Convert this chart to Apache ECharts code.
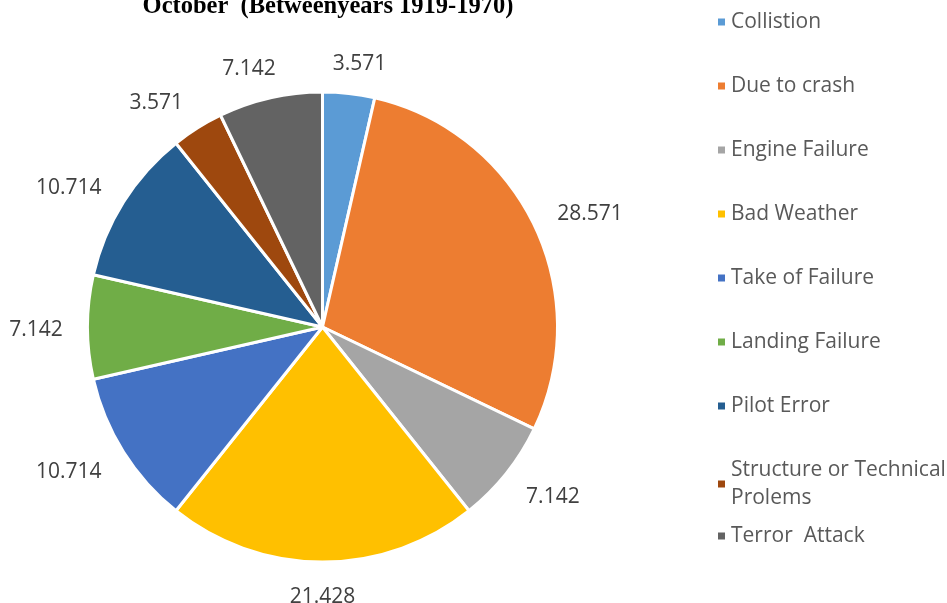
<!DOCTYPE html>
<html>
<head>
<meta charset="utf-8">
<script src="https://cdn.jsdelivr.net/npm/echarts@6/dist/echarts.min.js"></script>
<style>
html, body { margin: 0; padding: 0; background: #fff; }
#main { width: 947px; height: 603px; }
</style>
</head>
<body>
<div id="main"></div>
<script>
var causes = ['Collistion', 'Due to crash', 'Engine Failure', 'Bad Weather', 'Take of Failure',
    'Landing Failure', 'Pilot Error', 'Structure or Technical\nProlems', 'Terror  Attack']
var shares = [3.571, 28.571, 7.142, 21.428, 10.714, 7.142, 10.714, 3.571, 7.142]
var colors = ['#5B9BD5', '#ED7D31', '#A5A5A5', '#FFC000', '#4472C4', '#70AD47', '#255E91', '#9E480E', '#636363']

var pieCenter = [322.5, 327]
var pieRadius = 235
var labelGap = 22

var myChart = echarts.init(document.getElementById('main'))

let pieData = []
causes.forEach(function (name, i) {
    pieData.push({ name: name, value: shares[i] })
})

// mid angle of each slice, clockwise from 12 o'clock
let total = shares.reduce(function (a, b) { return a + b }, 0)
let midAngles = []
let acc = 0
shares.forEach(function (v) {
    midAngles.push((acc + v / 2) / total * Math.PI * 2)
    acc += v
})

function clamp(v) {
    return Math.max(-1, Math.min(1, v))
}

// legend text shared by both legend blocks
let legendText = { fontFamily: 'Open Sans', fontSize: 21, color: '#595959', lineHeight: 28 }

myChart.setOption({
    animation: false,
    color: colors,
    title: {
        text: 'October  (Betweenyears 1919-1970)',
        left: 323,
        textAlign: 'center',
        top: -11,
        textStyle: { fontFamily: 'Liberation Serif', fontWeight: 'bold', fontSize: 24.5, color: '#000' }
    },
    legend: [{
        orient: 'vertical',
        left: 711,
        top: 3,
        itemWidth: 9,
        itemHeight: 9,
        itemGap: 36,
        icon: 'rect',
        data: causes.slice(0, 8),
        textStyle: legendText
    }, {
        orient: 'vertical',
        left: 711,
        top: 517,
        itemWidth: 9,
        itemHeight: 9,
        icon: 'rect',
        data: causes.slice(8),
        textStyle: legendText
    }],
    series: [{
        name: 'October',
        type: 'pie',
        center: pieCenter,
        radius: pieRadius,
        startAngle: 90,
        clockwise: true,
        avoidLabelOverlap: false,
        itemStyle: { borderColor: '#fff', borderWidth: 3 },
        label: {
            show: true,
            position: 'outside',
            formatter: '{c}',
            overflow: 'none',
            fontFamily: 'Open Sans',
            fontSize: 21,
            color: '#404040'
        },
        labelLine: { show: false },
        // excel style: label box sits just outside the rim, leaning sideways away from the vertical
        labelLayout: function (params) {
            let a = midAngles[params.dataIndex]
            let dx = Math.sin(a), dy = -Math.cos(a)
            let w = params.labelRect.width, h = params.labelRect.height
            let d = pieRadius + labelGap
            return {
                x: pieCenter[0] + dx * d + 1.1 * clamp(dx * 2.5) * w / 2,
                y: pieCenter[1] + dy * d + dy * h / 2 + 3,
                align: 'center',
                verticalAlign: 'middle'
            }
        },
        data: pieData
    }]
})
</script>
</body>
</html>
